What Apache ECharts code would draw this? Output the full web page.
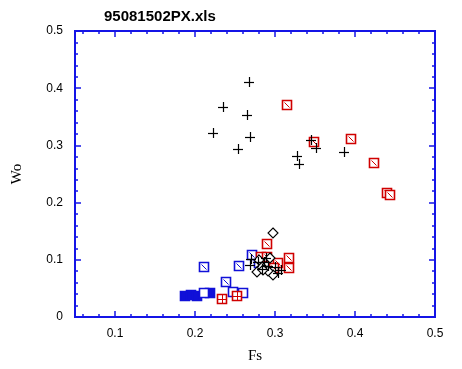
<!DOCTYPE html>
<html>
<head>
<meta charset="utf-8">
<script src="https://cdn.jsdelivr.net/npm/echarts@6/dist/echarts.min.js"></script>
<style>html,body{margin:0;padding:0;background:#fff;}#c{width:462px;height:369px;}</style>
</head>
<body>
<div id="c"></div>
<script>
// ---- data (Fs, Wo) ----
const crossFs = [0.268,0.235,0.265,0.222,0.269,0.254,0.345,0.351,0.328,0.330,0.386,
                 0.270,0.269,0.279,0.286,0.291,0.284,0.300,0.307,0.304,0.289];
const crossWo = [0.411,0.367,0.354,0.322,0.315,0.293,0.310,0.295,0.282,0.268,0.288,
                 0.101,0.091,0.096,0.096,0.089,0.084,0.087,0.082,0.077,0.103];
const redDiagFs = [0.315,0.349,0.395,0.424,0.440,0.444,0.290,0.2825,0.290,0.3175,0.3175,0.304,0.299];
const redDiagWo = [0.371,0.306,0.311,0.270,0.216,0.214,0.127,0.105,0.105,0.103,0.085,0.094,0.085];
const redGridFs = [0.234,0.2525];
const redGridWo = [0.031,0.037];
const blueDiagFs = [0.271,0.211,0.255,0.239];
const blueDiagWo = [0.108,0.087,0.089,0.061];
const blueOpenFs = [0.211,0.2475,0.260,0.280];
const blueOpenWo = [0.042,0.044,0.042,0.094];
const blueFilledFs = [0.188,0.195,0.2025,0.219];
const blueFilledWo = [0.037,0.038,0.037,0.042];
const diamondFs = [0.2975,0.294,0.2775,0.2975,0.284,0.291,0.280,0.285];
const diamondWo = [0.146,0.104,0.078,0.073,0.087,0.080,0.099,0.082];

const xMajor = [0.1,0.2,0.3,0.4,0.5];
const xMinor = [0.06,0.08,0.12,0.14,0.16,0.18,0.22,0.24,0.26,0.28,0.32,0.34,0.36,0.38,0.42,0.44,0.46,0.48];
const yMajor = [0,0.1,0.2,0.3,0.4,0.5];
const yMinor = [0.02,0.04,0.06,0.08,0.12,0.14,0.16,0.18,0.22,0.24,0.26,0.28,0.32,0.34,0.36,0.38,0.42,0.44,0.46,0.48];

const AX = '#1414e6';
const RED = '#d00000';
const BLUE = '#1010d8';

function pairs(a, b){ return a.map((v,i)=>[v,b[i]]); }

function sq(p, color, fill){
  return {type:'rect', shape:{x:Math.round(p[0])-4.5,y:Math.round(p[1])-4.5,width:9,height:9},
          style:{fill:fill, stroke:color, lineWidth:1.6}};
}
function makeRender(kind, color){
  return function(params, api){
    const p = api.coord([api.value(0), api.value(1)]);
    const x = Math.round(p[0]), y = Math.round(p[1]);
    if (kind === 'cross'){
      return {type:'group', children:[
        {type:'line', shape:{x1:x-5,y1:y+0.5,x2:x+5,y2:y+0.5}, style:{stroke:color,lineWidth:1.2}},
        {type:'line', shape:{x1:x+0.5,y1:y-5,x2:x+0.5,y2:y+5}, style:{stroke:color,lineWidth:1.2}}
      ]};
    }
    if (kind === 'diamond'){
      return {type:'polygon', shape:{points:[[x,y-5],[x+5,y],[x,y+5],[x-5,y]]},
              style:{fill:'#fff', stroke:color, lineWidth:1.1}};
    }
    if (kind === 'diag'){
      return {type:'group', children:[
        sq(p, color, '#fff'),
        {type:'line', shape:{x1:x-2.5,y1:y-2.5,x2:x+2.5,y2:y+2.5}, style:{stroke:color,lineWidth:1}}
      ]};
    }
    if (kind === 'grid'){
      return {type:'group', children:[
        sq(p, color, '#fff'),
        {type:'line', shape:{x1:x-4,y1:y+0.5,x2:x+4,y2:y+0.5}, style:{stroke:color,lineWidth:1}},
        {type:'line', shape:{x1:x+0.5,y1:y-4,x2:x+0.5,y2:y+4}, style:{stroke:color,lineWidth:1}}
      ]};
    }
    if (kind === 'open'){ return sq(p, color, '#fff'); }
    if (kind === 'filled'){ return sq(p, color, color); }
  };
}
function ser(kind, color, fs, wo){
  return {type:'custom', xAxisIndex:0, yAxisIndex:0, renderItem: makeRender(kind, color),
          data: pairs(fs, wo), clip:false, animation:false, silent:true};
}

function xAx(pos, ticks, len, labels, name){
  return {type:'value', min:0.05, max:0.5, position:pos, gridIndex:0,
    axisLine:{show:true, onZero:false, lineStyle:{color:AX, width:2}},
    axisTick:{show:true, inside:true, length:len, customValues:ticks, lineStyle:{color:AX, width:1.5}},
    axisLabel:{show:!!labels, customValues:xMajor, margin:11, color:'#000', fontSize:12, fontFamily:'Liberation Sans, Arial, sans-serif'},
    splitLine:{show:false},
    name: name||'', nameLocation:'middle', nameGap:32,
    nameTextStyle:{fontFamily:'Liberation Serif, Times New Roman, serif', fontSize:15, color:'#000'}
  };
}
function yAx(pos, ticks, len, labels, name){
  return {type:'value', min:0, max:0.5, position:pos, gridIndex:0,
    axisLine:{show:true, onZero:false, lineStyle:{color:AX, width:2}},
    axisTick:{show:true, inside:true, length:len, customValues:ticks, lineStyle:{color:AX, width:1.5}},
    axisLabel:{show:!!labels, customValues:yMajor, margin:12, color:'#000', fontSize:12, fontFamily:'Liberation Sans, Arial, sans-serif'},
    splitLine:{show:false},
    name: name||'', nameLocation:'middle', nameGap:50, nameRotate:90,
    nameTextStyle:{fontFamily:'Liberation Serif, Times New Roman, serif', fontSize:15, color:'#000'}
  };
}

const chart = echarts.init(document.getElementById('c'), null, {renderer:'canvas'});
chart.setOption({
  animation:false,
  backgroundColor:'#fff',
  title:{text:'95081502PX.xls', left:99, top:4,
    textStyle:{fontSize:15, fontWeight:'bold', color:'#000', fontFamily:'Liberation Sans, Arial, sans-serif'}},
  grid:{left:75, right:27, top:31, bottom:51},
  xAxis:[
    xAx('bottom', xMajor, 6, true, 'Fs'),
    xAx('bottom', xMinor, 3, false),
    xAx('top', xMajor, 6, false),
    xAx('top', xMinor, 3, false)
  ],
  yAxis:[
    yAx('left', yMajor, 6, true, 'Wo'),
    yAx('left', yMinor, 3, false),
    yAx('right', yMajor, 6, false),
    yAx('right', yMinor, 3, false)
  ],
  series:[
    ser('filled', BLUE, blueFilledFs, blueFilledWo),
    ser('open', BLUE, blueOpenFs, blueOpenWo),
    ser('diag', BLUE, blueDiagFs, blueDiagWo),
    ser('grid', RED, redGridFs, redGridWo),
    ser('diag', RED, redDiagFs, redDiagWo),
    ser('diamond', '#000', diamondFs, diamondWo),
    ser('cross', '#000', crossFs, crossWo)
  ]
});
</script>
</body>
</html>
